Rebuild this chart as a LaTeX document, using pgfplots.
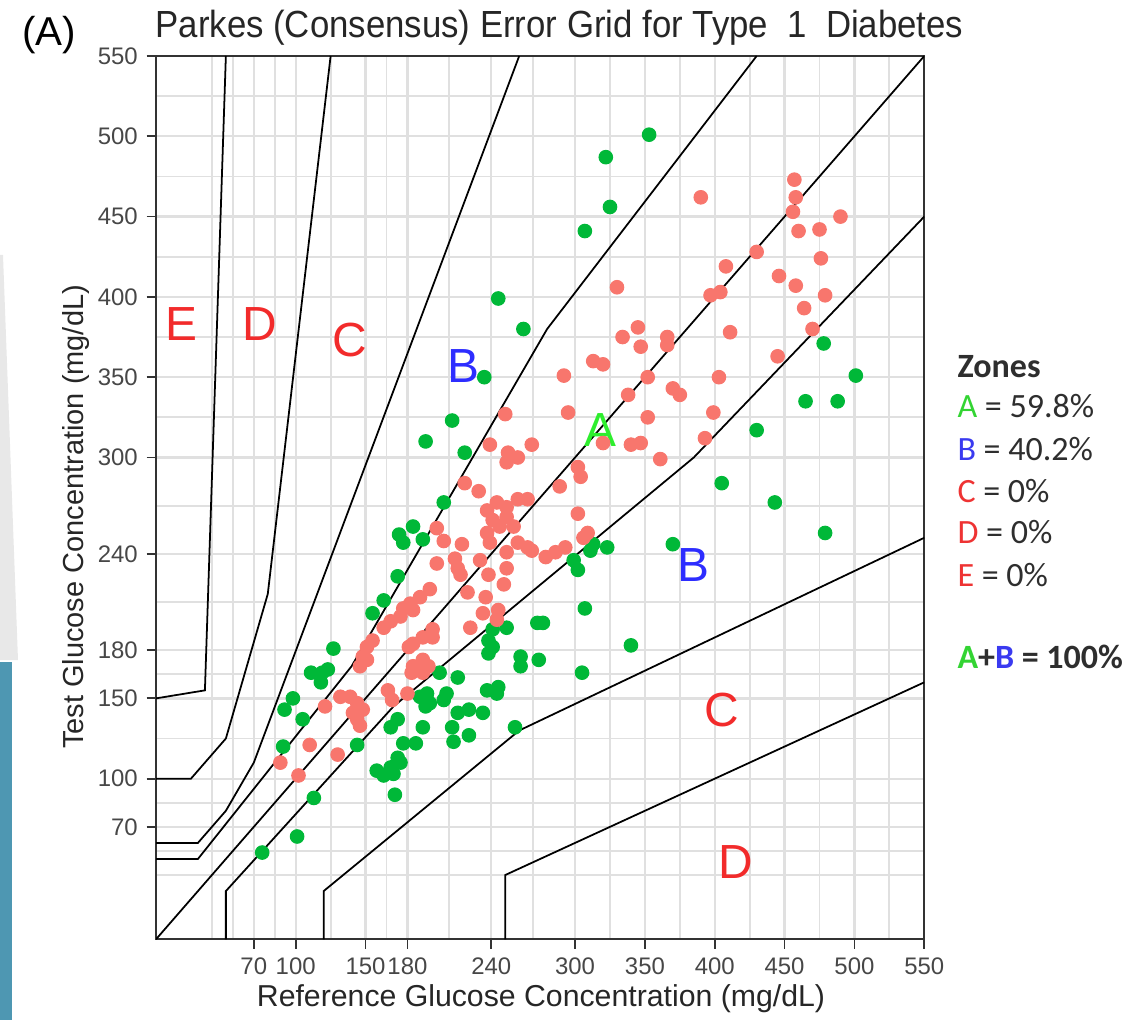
\documentclass[border=0pt]{standalone}
\usepackage{pgfplots}
\pgfplotsset{compat=1.18}
\usepackage{fontspec}
\setmainfont{Liberation Sans}
\newfontfamily\calibri{Carlito}
\usetikzlibrary{calc}

\definecolor{ptA}{HTML}{F8766D}
\definecolor{ptB}{HTML}{00B838}
\definecolor{gridc}{HTML}{E0E0E0}
\definecolor{lblA}{HTML}{2EEE2E}
\definecolor{lblB}{HTML}{2D2DFF}
\definecolor{lblR}{HTML}{F22B2B}
\definecolor{legA}{HTML}{33D433}
\definecolor{legB}{HTML}{3A3AF0}
\definecolor{legR}{HTML}{EE3333}
\definecolor{stripe}{HTML}{4E97B2}

\begin{document}
\begin{tikzpicture}
\begin{axis}[
    width=10.714cm, height=12.318cm, scale only axis,
    xmin=0, xmax=550, ymin=0, ymax=550,
    xtick={70,100,150,180,240,300,350,400,450,500,550},
    ytick={70,100,150,180,240,300,350,400,450,500,550},
    minor xtick={40,55,85,125,165,210,270,325,375,425,475,525},
    minor ytick={40,55,85,125,165,210,270,325,375,425,475,525},
    grid=both,
    major grid style={gridc, line width=0.9pt},
    minor grid style={gridc, line width=0.7pt},
    axis line style={draw=black!80, line width=0.8pt},
    tick style={black!80, line width=0.7pt},
    tick align=outside, major tick length=0.13cm, minor tick length=0pt,
    xtick pos=bottom, ytick pos=left,
    tick label style={font=\fontsize{9.5}{11}\selectfont, text=black!72},
    /pgf/number format/assume math mode=true,
]
\coordinate (bl) at (rel axis cs:0,0);

% zone B points (green)
\addplot[only marks, mark=*, mark size=2.7pt, color=ptB] table {
x y
353 501
322 487
325 456
307 441
245 399
263 380
235 350
212 323
193 310
221 303
478 371
501 351
465 335
488 335
430 317
405 284
443 272
479 253
370 246
299 236
302 230
311 242
323 244
313 246
307 206
340 183
305 166
206 272
184 257
174 252
177 247
191 249
173 226
163 211
155 203
127 181
111 166
119 166
118 160
123 168
98 150
92 143
105 137
91 120
113 88
101 64
76 54
144 121
158 105
168 107
173 113
175 110
163 102
170 103
171 90
177 122
186 122
168 132
173 137
191 132
189 151
194 153
196 147
193 145
203 166
208 153
206 149
216 163
216 141
224 143
234 141
212 132
213 123
224 127
237 155
245 157
244 153
257 132
241 193
251 194
238 186
238 178
241 182
261 176
261 170
274 174
273 197
277 197
};

% zone A points (red)
\addplot[only marks, mark=*, mark size=2.7pt, color=ptA] table {
x y
457 473
458 462
456 453
490 450
460 441
475 442
476 424
430 428
408 419
446 413
458 407
479 401
464 393
470 380
411 378
397 401
404 403
390 462
445 363
403 350
399 328
393 312
330 406
334 375
345 381
347 369
366 375
366 370
313 360
320 358
292 351
352 350
370 343
375 339
338 339
295 328
352 325
250 327
239 308
252 303
251 297
259 300
269 308
320 309
340 308
347 309
361 299
302 294
304 288
221 284
289 282
302 265
309 253
306 250
293 244
231 279
201 256
206 248
237 267
244 272
251 269
259 274
266 274
241 261
246 257
237 253
256 257
251 263
239 247
219 246
214 237
201 234
232 236
251 241
259 247
266 244
269 242
279 238
286 241
216 231
218 227
238 227
251 231
249 221
196 218
189 213
182 209
177 206
184 205
175 201
168 198
163 194
223 216
236 213
234 203
245 205
244 199
225 194
198 193
191 188
198 188
184 184
181 182
155 186
151 182
148 176
146 170
151 174
191 174
184 170
195 170
183 166
191 166
132 151
139 151
144 147
148 143
141 141
144 137
146 133
166 155
169 149
180 153
121 145
110 121
130 115
89 110
102 102
};

% zone boundaries
\addplot[black, line width=0.7pt] coordinates {(0,0) (550,550)};
\addplot[black, line width=0.7pt] coordinates {(0,50) (30,50) (140,170) (280,380) (430,550)};
\addplot[black, line width=0.7pt] coordinates {(50,0) (50,30) (170,145) (385,300) (550,450)};
\addplot[black, line width=0.7pt] coordinates {(0,60) (30,60) (50,80) (70,110) (260,550)};
\addplot[black, line width=0.7pt] coordinates {(120,0) (120,30) (260,130) (550,250)};
\addplot[black, line width=0.7pt] coordinates {(0,100) (25,100) (50,125) (80,215) (125,550)};
\addplot[black, line width=0.7pt] coordinates {(250,0) (250,40) (550,160)};
\addplot[black, line width=0.7pt] coordinates {(0,150) (35,155) (50,550)};

% zone letters
\node[font=\fontsize{19}{20}\selectfont, text=lblR] at (axis cs:18,383) {E};
\node[font=\fontsize{19}{20}\selectfont, text=lblR] at (axis cs:74,383) {D};
\node[font=\fontsize{19}{20}\selectfont, text=lblR] at (axis cs:139,373) {C};
\node[font=\fontsize{19}{20}\selectfont, text=lblB] at (axis cs:220,357) {B};
\node[font=\fontsize{19}{20}\selectfont, text=lblA] at (axis cs:318,317) {A};
\node[font=\fontsize{19}{20}\selectfont, text=lblB] at (axis cs:385,233) {B};
\node[font=\fontsize{19}{20}\selectfont, text=lblR] at (axis cs:405,143) {C};
\node[font=\fontsize{19}{20}\selectfont, text=lblR] at (axis cs:415,48) {D};
\end{axis}

\pgfresetboundingbox
\begin{scope}[shift={($(bl)+(-2.176,13.099)$)}, x=0.01395cm, y=-0.01395cm]
\path[use as bounding box] (0,0) rectangle (1147,1020);
% slide decoration at the left edge
\fill[black!9] (0,255) -- (3,255) -- (18,660) -- (0,660) -- cycle;
\fill[stripe] (0,662) rectangle (12,1020);

\node[anchor=base west, inner sep=0pt, font=\fontsize{16}{18}\selectfont] at (22,46) {(A)};
\node[anchor=base west, inner sep=0pt, font=\fontsize{15}{17}\selectfont, text=black!85] at (155,38)
    {\scalebox{0.92}[1]{Parkes (Consensus) Error Grid for Type\ \ 1\ \ Diabetes}};
\node[anchor=base, inner sep=0pt, font=\fontsize{12}{14}\selectfont, text=black!85] at (541,1006)
    {Reference Glucose Concentration (mg/dL)};
\node[rotate=90, font=\fontsize{11.5}{13}\selectfont, text=black!85] at (76,517)
    {Test Glucose Concentration (mg/dL)};

\begin{scope}[every node/.style={anchor=base west, inner sep=0pt, font=\calibri\fontsize{13.5}{16}\selectfont, text=black!82}]
\node at (957,377) {\bfseries Zones};
\node at (957,417) {\textcolor{legA}{A} = 59.8\%};
\node at (957,460) {\textcolor{legB}{B} = 40.2\%};
\node at (957,502) {\textcolor{legR}{C} = 0\%};
\node at (957,543) {\textcolor{legR}{D} = 0\%};
\node at (957,586) {\textcolor{legR}{E} = 0\%};
\node at (957,668) {\bfseries\textcolor{legA}{A}+\textcolor{legB}{B} = 100\%};
\end{scope}
\end{scope}
\end{tikzpicture}
\end{document}
